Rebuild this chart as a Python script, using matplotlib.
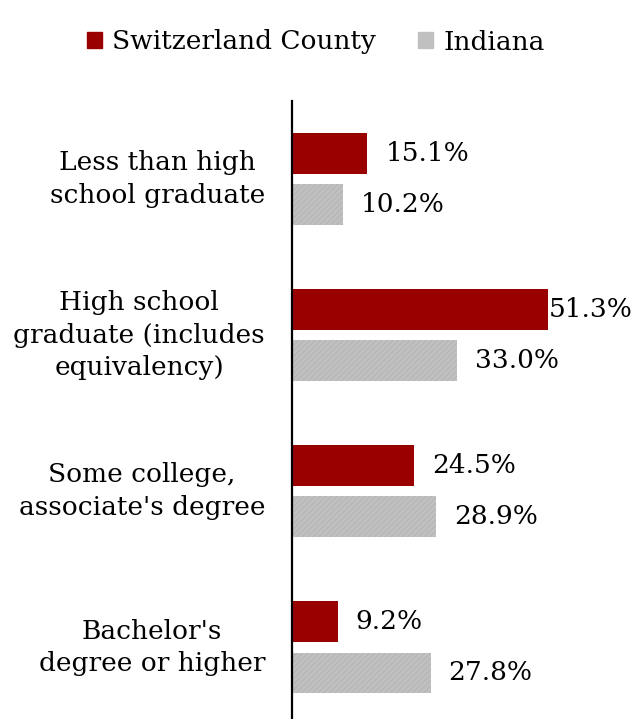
import matplotlib.pyplot as plt
from matplotlib.patches import Patch

categories = [
    "Less than high\nschool graduate",
    "High school\ngraduate (includes\nequivalency)",
    "Some college,\nassociate's degree",
    "Bachelor's\ndegree or higher",
]
county = [15.1, 51.3, 24.5, 9.2]
indiana = [10.2, 33.0, 28.9, 27.8]
series_names = ["Switzerland County", "Indiana"]

RED = "#990000"
GRAY = "#c0c0c0"

plt.rcParams["font.family"] = ["DejaVu Serif"]
plt.rcParams["hatch.linewidth"] = 0.6

W, H = 637, 719
fig = plt.figure(figsize=(W / 100, H / 100), dpi=100)
# axes box in pixel coords: left 292, top 101, right 637, bottom 719
ax = fig.add_axes([292 / W, 0, (W - 292) / W, (719 - 101) / H])

pos = list(range(len(categories)))
off = 0.165
h = 0.262
ax.barh([p - off for p in pos], county, height=h, color=RED, lw=0)
ax.barh([p + off for p in pos], indiana, height=h, color=GRAY,
        edgecolor="#b2b2b2", lw=0, hatch="//////")

xmax = (W - 292) / 4.99
ax.set_xlim(0, xmax)
ax.set_ylim(3.46, -0.5)

FS = 19
label_cap = 51.3 + 0.2  # rightmost start so labels stay inside plot area
for p, v in zip(pos, county):
    ax.text(min(v + 3.6, label_cap), p - off, f"{v:.1f}%", va="center",
            ha="left", fontsize=FS)
for p, v in zip(pos, indiana):
    ax.text(min(v + 3.6, label_cap), p + off, f"{v:.1f}%", va="center",
            ha="left", fontsize=FS)

for p, c in zip(pos, categories):
    ax.text(-5.4, p, c, ha="right", va="center", multialignment="center",
            fontsize=FS, linespacing=1.37)

for s in ["top", "right", "bottom"]:
    ax.spines[s].set_visible(False)
ax.spines["left"].set_linewidth(1.6)
ax.set_xticks([])
ax.set_yticks([])

handles = [Patch(color=RED), Patch(color=GRAY)]
fig.legend(handles, series_names, loc="center", bbox_to_anchor=(316 / W, 1 - 42 / H),
           ncol=2, frameon=False, fontsize=FS, handlelength=0.55, handleheight=0.55,
           handletextpad=0.4, columnspacing=1.6)

fig.savefig("out.png", dpi=100)
